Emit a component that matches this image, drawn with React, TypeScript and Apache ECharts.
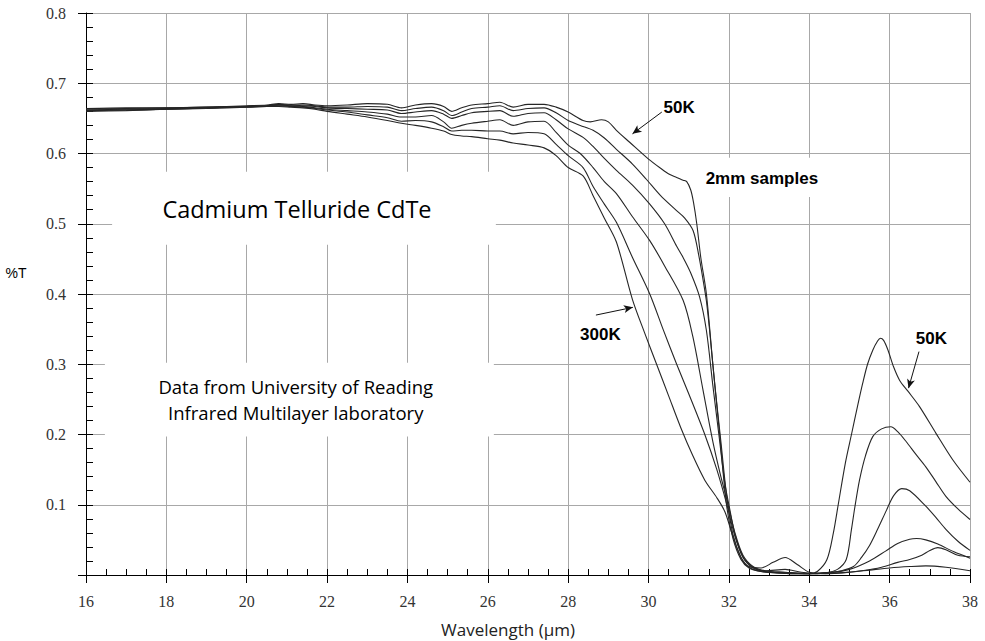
import React, { useEffect, useRef } from 'react';
import * as echarts from 'echarts';

// Wavelength (µm) range and %T range
const xMin = 16;
const xMax = 38;
const yMin = 0;
const yMax = 0.8;

// Transmission curves, [wavelength µm, %T]
const t50K: [number, number][] = [
  [16, 0.664], [17, 0.665], [18, 0.665], [19, 0.666], [20, 0.668], [20.5, 0.669], [20.8, 0.671], [21.1, 0.670],
  [21.4, 0.671], [21.7, 0.669], [22, 0.668], [22.5, 0.669], [23, 0.671], [23.5, 0.670], [23.85, 0.665], [24.2, 0.669],
  [24.6, 0.671], [24.9, 0.667], [25.1, 0.660], [25.35, 0.665], [25.6, 0.669], [26, 0.671], [26.3, 0.673], [26.63, 0.666],
  [27.0, 0.670], [27.4, 0.670], [27.7, 0.666], [28.0, 0.659], [28.37, 0.647], [28.55, 0.645], [28.83, 0.648], [29.0, 0.645],
  [29.2, 0.633], [29.53, 0.616], [30.0, 0.592], [30.3, 0.579], [30.53, 0.570], [30.7, 0.566], [30.86, 0.562], [30.95, 0.560],
  [31.05, 0.548], [31.12, 0.530], [31.2, 0.500], [31.3, 0.452], [31.44, 0.400], [31.6, 0.300], [31.77, 0.200], [31.94, 0.100],
  [32.1, 0.052], [32.3, 0.022], [32.5, 0.010], [32.8, 0.005], [33.2, 0.003], [33.6, 0.002], [34.0, 0.002], [34.2, 0.005],
  [34.44, 0.022], [34.6, 0.060], [34.72, 0.100], [34.9, 0.160], [35.05, 0.200], [35.2, 0.240], [35.33, 0.273], [35.45, 0.300],
  [35.58, 0.320], [35.7, 0.333], [35.77, 0.337], [35.85, 0.334], [35.96, 0.320], [36.1, 0.296], [36.25, 0.277], [36.45, 0.262],
  [36.74, 0.240], [37.15, 0.202], [37.57, 0.164], [38.0, 0.132],
];

const t100K: [number, number][] = [
  [16, 0.663], [17, 0.664], [18, 0.665], [19, 0.666], [20, 0.667], [20.5, 0.668], [20.8, 0.670], [21.1, 0.669],
  [21.4, 0.669], [21.7, 0.668], [22, 0.666], [22.5, 0.666], [23, 0.667], [23.5, 0.666], [23.85, 0.661], [24.2, 0.664],
  [24.6, 0.666], [24.9, 0.661], [25.1, 0.654], [25.35, 0.659], [25.6, 0.664], [26, 0.666], [26.3, 0.668], [26.63, 0.661],
  [27.0, 0.664], [27.4, 0.665], [27.7, 0.658], [28.0, 0.647], [28.3, 0.640], [28.62, 0.633], [28.9, 0.622], [29.2, 0.606],
  [29.6, 0.585], [29.95, 0.563], [30.3, 0.540], [30.69, 0.519], [30.9, 0.508], [31.11, 0.490], [31.25, 0.455], [31.36, 0.419],
  [31.44, 0.390], [31.52, 0.348], [31.65, 0.270], [31.8, 0.190], [31.95, 0.110], [32.1, 0.058], [32.3, 0.025], [32.5, 0.011],
  [32.8, 0.005], [33.2, 0.003], [33.6, 0.002], [34.0, 0.002], [34.4, 0.003], [34.7, 0.008], [34.92, 0.022], [35.05, 0.065],
  [35.13, 0.095], [35.25, 0.135], [35.4, 0.170], [35.58, 0.197], [35.8, 0.208], [36.03, 0.211], [36.2, 0.204], [36.41, 0.190],
  [36.65, 0.172], [36.9, 0.154], [37.15, 0.133], [37.4, 0.112], [37.7, 0.094], [38.0, 0.079],
];

const t150K: [number, number][] = [
  [16, 0.662], [17, 0.663], [18, 0.664], [19, 0.665], [20, 0.667], [20.5, 0.668], [20.8, 0.669], [21.1, 0.669],
  [21.4, 0.668], [21.7, 0.667], [22, 0.665], [22.5, 0.664], [23, 0.663], [23.5, 0.662], [23.85, 0.657], [24.2, 0.659],
  [24.6, 0.661], [24.9, 0.656], [25.1, 0.650], [25.35, 0.654], [25.6, 0.658], [26, 0.660], [26.3, 0.661], [26.63, 0.653],
  [27.0, 0.657], [27.4, 0.658], [27.7, 0.648], [28.0, 0.635], [28.37, 0.623], [28.62, 0.610], [28.9, 0.593], [29.2, 0.576],
  [29.6, 0.555], [30.03, 0.528], [30.4, 0.500], [30.7, 0.468], [30.86, 0.452], [31.05, 0.430], [31.27, 0.396], [31.44, 0.348],
  [31.6, 0.270], [31.75, 0.200], [31.9, 0.130], [32.0, 0.100], [32.15, 0.058], [32.35, 0.026], [32.6, 0.011], [32.9, 0.005],
  [33.4, 0.003], [34.0, 0.002], [34.5, 0.004], [34.8, 0.006], [35.1, 0.012], [35.3, 0.025], [35.5, 0.042], [35.7, 0.065],
  [35.92, 0.092], [36.1, 0.113], [36.3, 0.123], [36.5, 0.120], [36.9, 0.098], [37.15, 0.082], [37.4, 0.065], [37.7, 0.048],
  [38.0, 0.035],
];

const t200K: [number, number][] = [
  [16, 0.661], [17, 0.662], [18, 0.663], [19, 0.665], [20, 0.667], [20.5, 0.668], [20.8, 0.669], [21.1, 0.668],
  [21.4, 0.667], [21.7, 0.665], [22, 0.663], [22.5, 0.661], [23, 0.659], [23.5, 0.656], [23.85, 0.652], [24.2, 0.652],
  [24.6, 0.654], [24.9, 0.645], [25.1, 0.636], [25.35, 0.640], [25.6, 0.643], [26, 0.646], [26.3, 0.648], [26.63, 0.640],
  [27.0, 0.645], [27.4, 0.646], [27.7, 0.630], [28.0, 0.612], [28.3, 0.600], [28.62, 0.580], [28.9, 0.560], [29.2, 0.543],
  [29.6, 0.510], [30.03, 0.476], [30.4, 0.440], [30.86, 0.391], [31.1, 0.340], [31.35, 0.265], [31.6, 0.190], [31.8, 0.140],
  [31.98, 0.100], [32.15, 0.060], [32.35, 0.028], [32.6, 0.012], [32.9, 0.006], [33.4, 0.004], [34.0, 0.002], [34.5, 0.003],
  [35.0, 0.008], [35.5, 0.020], [35.9, 0.034], [36.2, 0.045], [36.5, 0.051], [36.67, 0.052], [36.9, 0.050], [37.2, 0.044],
  [37.6, 0.033], [38.0, 0.024],
];

const t250K: [number, number][] = [
  [16, 0.661], [17, 0.662], [18, 0.663], [19, 0.665], [20, 0.666], [20.5, 0.667], [20.8, 0.668], [21.1, 0.667],
  [21.4, 0.666], [21.7, 0.664], [22, 0.662], [22.5, 0.659], [23, 0.655], [23.5, 0.651], [23.85, 0.646], [24.2, 0.647],
  [24.6, 0.645], [24.9, 0.638], [25.1, 0.632], [25.35, 0.633], [25.6, 0.633], [26, 0.632], [26.3, 0.632], [26.63, 0.628],
  [27.0, 0.630], [27.4, 0.628], [27.7, 0.613], [28.0, 0.597], [28.37, 0.580], [28.62, 0.553], [28.9, 0.528], [29.2, 0.502],
  [29.6, 0.452], [30.03, 0.400], [30.36, 0.350], [30.7, 0.300], [31.0, 0.258], [31.4, 0.200], [31.7, 0.150], [31.95, 0.100],
  [32.15, 0.055], [32.35, 0.025], [32.6, 0.010], [32.9, 0.006], [33.4, 0.008], [33.8, 0.004], [34.2, 0.002], [34.8, 0.003],
  [35.3, 0.006], [35.8, 0.011], [36.2, 0.018], [36.5, 0.022], [36.8, 0.028], [37.0, 0.035], [37.2, 0.039], [37.4, 0.036],
  [37.7, 0.028], [38.0, 0.026],
];

const t300K: [number, number][] = [
  [16, 0.660], [17, 0.661], [18, 0.663], [19, 0.664], [20, 0.666], [20.5, 0.667], [20.8, 0.667], [21.1, 0.666],
  [21.4, 0.665], [21.7, 0.663], [22, 0.660], [22.5, 0.656], [23, 0.652], [23.5, 0.647], [23.85, 0.643], [24.2, 0.640],
  [24.6, 0.636], [24.9, 0.632], [25.1, 0.627], [25.35, 0.625], [25.6, 0.624], [26, 0.621], [26.3, 0.619], [26.63, 0.615],
  [27.0, 0.612], [27.4, 0.608], [27.7, 0.597], [28.0, 0.580], [28.37, 0.568], [28.62, 0.540], [28.9, 0.508], [29.2, 0.474],
  [29.6, 0.392], [29.9, 0.345], [30.2, 0.300], [30.5, 0.255], [30.8, 0.210], [31.1, 0.170], [31.4, 0.135], [31.7, 0.110],
  [31.9, 0.090], [32.1, 0.055], [32.3, 0.025], [32.5, 0.012], [32.8, 0.010], [33.1, 0.018], [33.4, 0.025], [33.7, 0.015],
  [34.0, 0.004], [34.4, 0.002], [35.0, 0.004], [35.5, 0.007], [36.0, 0.010], [36.5, 0.012], [36.9, 0.013], [37.4, 0.011],
  [38.0, 0.006],
];

const seriesNames = ['50K', '100K', '150K', '200K', '250K', '300K'];
const seriesData = [t50K, t100K, t150K, t200K, t250K, t300K];

// Annotation anchors in data coordinates
const arrow50KTop: [number, number][] = [[30.33, 0.659], [29.6, 0.628]];
const arrow300K: [number, number][] = [[28.69, 0.370], [29.61, 0.381]];
const arrow50KRight: [number, number][] = [[36.73, 0.318], [36.47, 0.266]];

export default function App() {
  const ref = useRef<HTMLDivElement>(null);

  useEffect(() => {
    if (!ref.current) return;
    const chart = echarts.init(ref.current, undefined, { renderer: 'svg' });
    const serif = '"Liberation Serif", "Times New Roman", serif';
    const sans = '"Liberation Sans", Arial, sans-serif';
    const open = '"Open Sans", sans-serif';
    const option: any = {
      animation: false,
      backgroundColor: '#fff',
      grid: { left: 86, right: 15, top: 13, bottom: 66, containLabel: false },
      xAxis: [
        {
          type: 'value', min: xMin, max: xMax, interval: 2, position: 'bottom',
          axisLine: { show: true, onZero: false, lineStyle: { color: '#000', width: 1 } },
          axisTick: { show: true, inside: false, length: 8, lineStyle: { color: '#000' } },
          axisLabel: { show: true, margin: 18, color: '#333', fontFamily: serif, fontSize: 16 },
          splitLine: { show: true, lineStyle: { color: '#a8a8a8', width: 1 } },
        },
        {
          type: 'value', min: xMin, max: xMax, interval: 0.5, position: 'bottom',
          axisLine: { show: false },
          axisTick: { show: true, inside: true, length: 6, lineStyle: { color: '#000' } },
          axisLabel: { show: false },
          splitLine: { show: false },
        },
      ],
      yAxis: [
        {
          type: 'value', min: yMin, max: yMax, interval: 0.1, position: 'left',
          axisLine: { show: true, onZero: false, lineStyle: { color: '#000', width: 1 } },
          axisTick: { show: true, inside: false, length: 8, lineStyle: { color: '#000' } },
          axisLabel: {
            show: true, margin: 20, color: '#333', fontFamily: serif, fontSize: 16,
            formatter: (v: number) => (v === 0 ? '' : v.toFixed(1)),
          },
          splitLine: { show: true, lineStyle: { color: '#a8a8a8', width: 1 } },
        },
        {
          type: 'value', min: yMin, max: yMax, interval: 0.02, position: 'left',
          axisLine: { show: false },
          axisTick: { show: true, inside: true, length: 7, lineStyle: { color: '#000' } },
          axisLabel: { show: false },
          splitLine: { show: false },
        },
      ],
      series: seriesData.map((d, i) => {
        const s: any = {
          name: seriesNames[i],
          type: 'line',
          xAxisIndex: 0,
          yAxisIndex: 0,
          data: d,
          showSymbol: false,
          symbol: 'none',
          smooth: 0.3,
          lineStyle: { color: '#262626', width: 1.1 },
          z: 3,
        };
        const arrows: any[] = [];
        if (i === 0) {
          arrows.push([{ coord: arrow50KTop[0] }, { coord: arrow50KTop[1] }]);
          arrows.push([{ coord: arrow50KRight[0] }, { coord: arrow50KRight[1] }]);
        }
        if (i === 5) {
          arrows.push([{ coord: arrow300K[0] }, { coord: arrow300K[1] }]);
        }
        if (arrows.length) {
          s.markLine = {
            silent: true,
            symbol: ['none', 'arrow'],
            symbolSize: [6, 9],
            lineStyle: { color: '#111', width: 1, type: 'solid' },
            label: { show: false },
            data: arrows,
          };
        }
        return s;
      }),
    };
    chart.setOption(option);

    const P = (x: number, y: number) => chart.convertToPixel({ seriesIndex: 0 }, [x, y]) as number[];
    const box = (x1: number, y1: number, x2: number, y2: number) => {
      const a = P(x1, y1);
      const b = P(x2, y2);
      return {
        type: 'rect', z: 1, silent: true,
        shape: { x: a[0], y: a[1], width: b[0] - a[0], height: b[1] - a[1] },
        style: { fill: '#fff' },
      };
    };
    const text = (x: number, y: number, t: string, font: string, size: number, weight = 'normal') => {
      const p = P(x, y);
      return {
        type: 'text', z: 10, silent: true, x: p[0], y: p[1],
        style: {
          text: t, fill: '#000', fontFamily: font, fontSize: size, fontWeight: weight,
          align: 'center', verticalAlign: 'middle',
        },
      };
    };
    const mid = (P(xMin, 0)[0] + P(xMax, 0)[0]) / 2;
    const plotBottom = P(xMin, 0)[1];
    chart.setOption({
      graphic: [
        box(16.65, 0.574, 26.2, 0.470),
        box(16.47, 0.302, 26.15, 0.197),
        box(31.2, 0.594, 34.45, 0.538),
        text(21.25, 0.521, 'Cadmium Telluride CdTe', open, 23.5),
        text(21.22, 0.269, 'Data from University of Reading', open, 18.5),
        text(21.22, 0.231, 'Infrared Multilayer laboratory', open, 18.5),
        text(32.82, 0.564, '2mm samples', sans, 17, 'bold'),
        text(30.76, 0.666, '50K', sans, 17, 'bold'),
        text(37.04, 0.337, '50K', sans, 17, 'bold'),
        text(28.8, 0.343, '300K', sans, 17, 'bold'),
        {
          type: 'text', z: 10, silent: true, x: 16, y: P(xMin, 0.43)[1],
          style: { text: '%T', fill: '#000', fontFamily: sans, fontSize: 14, align: 'center', verticalAlign: 'middle' },
        },
        {
          type: 'text', z: 10, silent: true, x: mid - 20, y: plotBottom + 54,
          style: { text: 'Wavelength (µm)', fill: '#222', fontFamily: open, fontSize: 17, align: 'center', verticalAlign: 'middle' },
        },
      ],
    });

    return () => chart.dispose();
  }, []);

  return (
    <div
      ref={ref}
      style={{ position: 'fixed', left: 0, top: 0, width: 985, height: 641, background: '#fff' }}
    />
  );
}
